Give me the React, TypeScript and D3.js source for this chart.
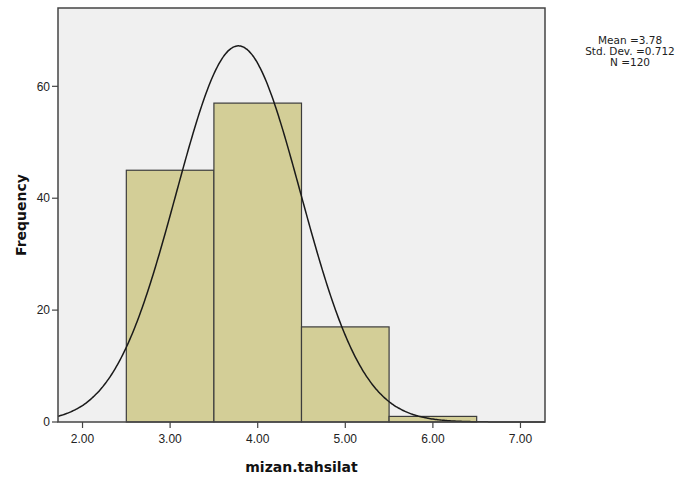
import React from 'react';
import * as d3 from 'd3';

const width = 683;
const height = 481;
const margin = { top: 8, right: 138, bottom: 59, left: 58 };

// histogram bins (lower, upper) and counts
const binStarts = [2.5, 3.5, 4.5, 5.5];
const binEnds = [3.5, 4.5, 5.5, 6.5];
const counts = [45, 57, 17, 1];
const xTicks = [2, 3, 4, 5, 6, 7];
const yTicks = [0, 20, 40, 60];

const mean = 3.78;
const sd = 0.712;
const n = 120;
const binWidth = 1;

const App = () => {
    const innerWidth = width - margin.left - margin.right;
    const innerHeight = height - margin.top - margin.bottom;

    const xScale = d3.scaleLinear().domain([1.72, 7.28]).range([0, innerWidth]);
    const yScale = d3.scaleLinear().domain([0, 74]).range([innerHeight, 0]);

    const normal = (x: number) =>
        (n * binWidth) / (sd * Math.sqrt(2 * Math.PI)) * Math.exp(-0.5 * ((x - mean) / sd) ** 2);

    const curvePts = d3.range(0, 401).map(i => {
        const x = 1.72 + (i / 400) * (7.28 - 1.72);
        return [x, normal(x)] as [number, number];
    });
    const line = d3.line<[number, number]>()
        .x(d => xScale(d[0]))
        .y(d => yScale(d[1]))
        .curve(d3.curveBasis);

    const font = 'Arial, "Liberation Sans", sans-serif';
    const titleFont = '"DejaVu Sans", Verdana, sans-serif';

    return (
        <svg width={width} height={height} style={{ position: 'absolute', left: 0, top: 0 }} fontFamily={font}>
            <rect x={0} y={0} width={width} height={height} fill="#ffffff" />
            <g transform={`translate(${margin.left},${margin.top})`}>
                <rect x={0} y={0} width={innerWidth} height={innerHeight} fill="#f0f0f0" />
                {counts.map((c, i) => (
                    <rect
                        key={i}
                        x={xScale(binStarts[i])}
                        y={yScale(c)}
                        width={xScale(binEnds[i]) - xScale(binStarts[i])}
                        height={yScale(0) - yScale(c)}
                        fill="#d3ce97"
                        stroke="#3c3c3c"
                        strokeWidth={1.2}
                    />
                ))}
                <path d={line(curvePts) || ''} fill="none" stroke="#1a1a1a" strokeWidth={1.5} />
                <rect x={0} y={0} width={innerWidth} height={innerHeight} fill="none" stroke="#444444" strokeWidth={1.5} />
                {xTicks.map(t => (
                    <g key={t} transform={`translate(${xScale(t)},${innerHeight})`}>
                        <line y2={6} stroke="#444444" strokeWidth={1.2} />
                        <text y={21} textAnchor="middle" fontSize={12} fill="#222">
                            {t.toFixed(2)}
                        </text>
                    </g>
                ))}
                {yTicks.map(t => (
                    <g key={t} transform={`translate(0,${yScale(t)})`}>
                        <line x2={-6} stroke="#444444" strokeWidth={1.2} />
                        <text x={-8} dy=".35em" textAnchor="end" fontSize={12} fill="#222">
                            {t}
                        </text>
                    </g>
                ))}
                <text
                    x={innerWidth / 2}
                    y={innerHeight + 50}
                    textAnchor="middle"
                    fontSize={14}
                    fontWeight="bold"
                    fill="#111"
                    fontFamily={titleFont}
                >
                    mizan.tahsilat
                </text>
                <text
                    transform={`translate(-32,${innerHeight / 2}) rotate(-90)`}
                    textAnchor="middle"
                    fontSize={14}
                    fontWeight="bold"
                    fill="#111"
                    fontFamily={titleFont}
                >
                    Frequency
                </text>
            </g>
            <g fontSize={10.5} fill="#222" textAnchor="middle" fontFamily={titleFont}>
                <text x={630} y={44}>Mean =3.78</text>
                <text x={630} y={55}>Std. Dev. =0.712</text>
                <text x={630} y={66}>N =120</text>
            </g>
        </svg>
    );
};

export default App;
